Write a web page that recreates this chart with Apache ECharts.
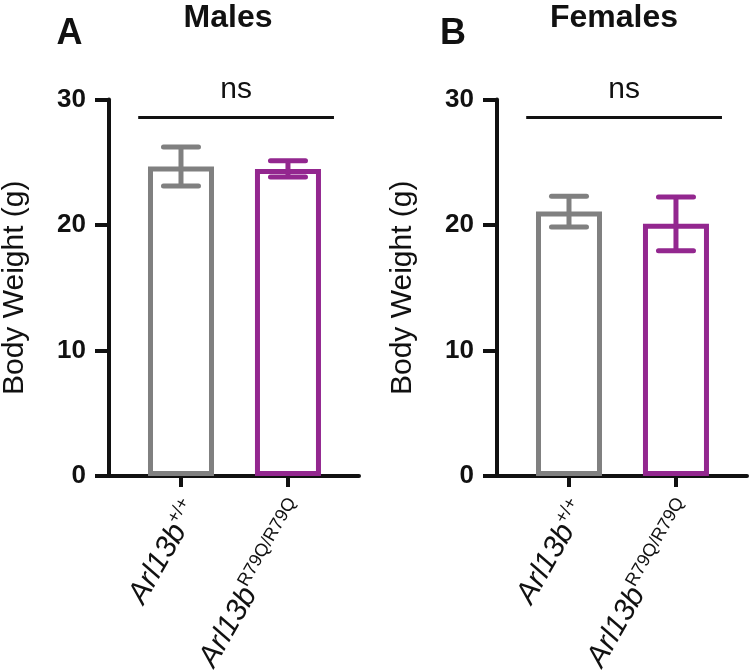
<!DOCTYPE html>
<html>
<head>
<meta charset="utf-8">
<script src="https://cdn.jsdelivr.net/npm/echarts@6/dist/echarts.min.js"></script>
<style>
html,body{margin:0;padding:0;background:#fff;}
#chart{width:750px;height:671px;}
</style>
</head>
<body>
<div id="chart"></div>
<script>
// ---- data ----
const geneBase = 'Arl13b';
const alleles = ['+/+', 'R79Q/R79Q'];
const groupPositions = [0, 1];
const maleMean = [24.66, 24.47];
const maleSD = [1.56, 0.64];
const femaleMean = [21.07, 20.09];
const femaleSD = [1.22, 2.15];
const yTicks = [0, 10, 20, 30];
const sigLabel = 'ns';
const sigLevel = 28.62;
const sigSpan = [-0.40, 1.43];
const panelTitles = ['Males', 'Females'];
const panelLetters = ['A', 'B'];
const yTitle = 'Body Weight (g)';

// ---- style ----
const FONT = '"Liberation Sans", Arial, Helvetica, sans-serif';
const barColors = ['#808080', '#93278F'];
const ink = '#111111';
const panelLeft = [109, 497];
const panelWidth = 250;
const gridTop = 99.5;
const gridHeight = 376.5;

const chart = echarts.init(document.getElementById('chart'), null, {renderer: 'canvas'});

function xAxisFor(i) {
  return {
    type: 'value', gridIndex: i,
    min: -0.673, max: 1.664,
    splitLine: {show: false},
    axisLine: {show: true, onZero: false, lineStyle: {color: ink, width: 4}},
    axisTick: {show: true, customValues: groupPositions, length: 11, lineStyle: {color: ink, width: 4}},
    axisLabel: {
      show: true, customValues: groupPositions, rotate: 60, margin: 21,
      padding: [24, 0, 0, 0],
      formatter: function (v) { return '{g|' + geneBase + '}{s|' + alleles[Math.round(v)] + '}'; },
      rich: {
        g: {fontFamily: FONT, fontSize: 30, fontStyle: 'italic', color: ink, lineHeight: 33, verticalAlign: 'bottom'},
        s: {fontFamily: FONT, fontSize: 18, color: ink, lineHeight: 18, verticalAlign: 'top'}
      }
    }
  };
}
function yAxisFor(i) {
  return {
    type: 'value', gridIndex: i, min: 0, max: 30, interval: 10,
    splitLine: {show: false},
    axisLine: {show: true, onZero: false, lineStyle: {color: ink, width: 4}},
    axisTick: {show: true, length: 14, lineStyle: {color: ink, width: 4}},
    axisLabel: {
      margin: 23, fontFamily: FONT, fontSize: 26, fontWeight: 'bold', color: ink,
      formatter: function (v) { return yTicks.indexOf(v) >= 0 ? String(v) : ''; }
    },
    name: yTitle, nameLocation: 'middle', nameRotate: 90, nameGap: 79,
    nameTextStyle: {fontFamily: FONT, fontSize: 30, color: ink}
  };
}

function barSeries(i, means) {
  return {
    type: 'bar', xAxisIndex: i, yAxisIndex: i, barWidth: 66, z: 2,
    data: groupPositions.map(function (p, k) {
      return {value: [p, means[k]], itemStyle: {color: '#ffffff', borderColor: barColors[k], borderWidth: 5}};
    }),
    silent: true,
    markLine: {
      silent: true, symbol: 'none',
      lineStyle: {color: ink, width: 3, type: 'solid'},
      label: {show: true, position: 'middle', formatter: sigLabel, fontFamily: FONT, fontSize: 30, color: ink, distance: 12},
      data: [[{coord: [sigSpan[0], sigLevel]}, {coord: [sigSpan[1], sigLevel]}]]
    }
  };
}
function errSeries(i, means, sds) {
  return {
    type: 'custom', xAxisIndex: i, yAxisIndex: i, silent: true, z: 5,
    data: groupPositions.map(function (p, k) { return [p, means[k], sds[k]]; }),
    encode: {x: 0, y: 1},
    renderItem: function (params, api) {
      const x = api.value(0), m = api.value(1), e = api.value(2);
      const hi = api.coord([x, m + e]);
      const lo = api.coord([x, m - e]);
      const c = barColors[params.dataIndex];
      const hw = 17.5;
      const st = {stroke: c, lineWidth: 5, lineCap: 'round'};
      return {type: 'group', children: [
        {type: 'line', shape: {x1: hi[0], y1: hi[1], x2: lo[0], y2: lo[1]}, style: {stroke: c, lineWidth: 5}},
        {type: 'line', shape: {x1: hi[0] - hw, y1: hi[1], x2: hi[0] + hw, y2: hi[1]}, style: st},
        {type: 'line', shape: {x1: lo[0] - hw, y1: lo[1], x2: lo[0] + hw, y2: lo[1]}, style: st}
      ]};
    }
  };
}

const option = {
  animation: false,
  backgroundColor: '#ffffff',
  title: [
    {text: panelTitles[0], left: 228, top: 2, textAlign: 'center', padding: 0,
     textStyle: {fontFamily: FONT, fontSize: 32, fontWeight: 'bold', color: ink}},
    {text: panelTitles[1], left: 614, top: 2, textAlign: 'center', padding: 0,
     textStyle: {fontFamily: FONT, fontSize: 32, fontWeight: 'bold', color: ink}},
    {text: panelLetters[0], left: 69.5, top: 16, textAlign: 'center', padding: 0,
     textStyle: {fontFamily: FONT, fontSize: 36, fontWeight: 'bold', color: ink}},
    {text: panelLetters[1], left: 453, top: 16, textAlign: 'center', padding: 0,
     textStyle: {fontFamily: FONT, fontSize: 36, fontWeight: 'bold', color: ink}}
  ],
  grid: [
    {left: panelLeft[0], width: panelWidth, top: gridTop, height: gridHeight, containLabel: false, outerBoundsMode: 'none'},
    {left: panelLeft[1], width: panelWidth, top: gridTop, height: gridHeight, containLabel: false, outerBoundsMode: 'none'}
  ],
  xAxis: [xAxisFor(0), xAxisFor(1)],
  yAxis: [yAxisFor(0), yAxisFor(1)],
  series: [
    barSeries(0, maleMean), errSeries(0, maleMean, maleSD),
    barSeries(1, femaleMean), errSeries(1, femaleMean, femaleSD)
  ]
};
chart.setOption(option);
</script>
</body>
</html>
